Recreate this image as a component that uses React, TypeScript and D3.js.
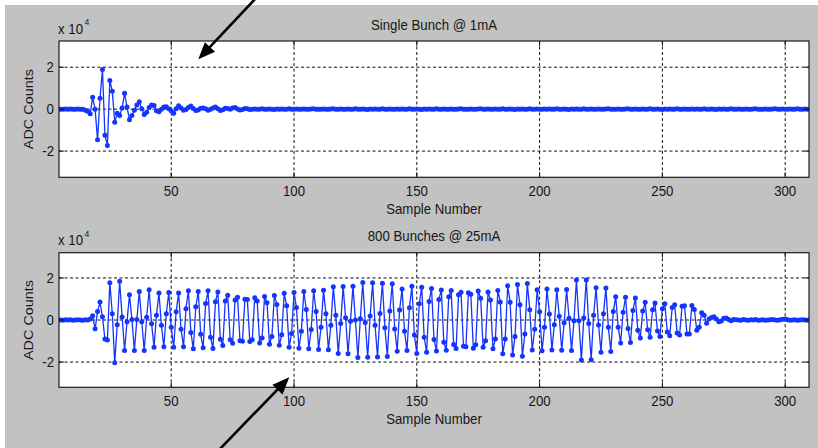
import React from "react";
import * as d3 from "d3";

// ---------- data (ADC counts in units of 1e4, one value per sample, starting at sample 4) ----------
const FIRST_SAMPLE = 4;

const singleBunch: number[] = [
  // 4-13
  0.01, 0, -0.01, 0.01, 0, 0.01, -0.01, 0, 0.01, 0,
  // 14-23
  -0.01, -0.05, -0.1, -0.22, 0.57, 0, -1.46, 0.52, 1.89, -1.25,
  // 24-33
  -1.73, 1.37, 0.85, -0.62, -0.2, -0.3, 0.05, 0.76, 0.1, -0.5,
  // 34-43
  -0.3, -0.05, 0.2, 0.35, 0.02, -0.25, -0.15, 0.08, 0.2, 0.18,
  // 44-53
  -0.08, -0.12, 0, 0.1, 0.12, 0.02, -0.08, -0.2, 0.02, 0.16,
  // 54-63
  0.05, -0.05, -0.02, 0.08, 0.15, 0.03, -0.06, -0.04, 0.04, 0.06,
  // 64-73
  0.02, -0.05, 0, 0.06, 0.1, 0.02, -0.06, -0.03, 0.04, 0.03,
  // 74-83
  0, 0.06, 0.08, 0.01, -0.04, -0.02, 0.03, 0.02, -0.02, 0,
  // 84-93
  0.01, -0.01, 0, 0.02, 0, -0.01, 0.01, 0, -0.02, 0.01,
  // 94-103
  0, 0.01, -0.01, 0, 0.02, -0.01, 0, 0.01, 0, -0.01,
  // 104-113
  0.01, 0, -0.01, 0.01, 0.02, 0, -0.01, 0, 0.01, -0.01,
  // 114-123
  0, 0.01, 0.02, -0.01, 0, 0.01, -0.01, 0, 0.01, 0,
  // 124-133
  -0.01, 0.02, 0, -0.01, 0.01, 0, -0.02, 0.01, 0, 0.01,
  // 134-143
  -0.01, 0, 0.02, -0.01, 0, 0.01, 0, -0.01, 0.01, 0,
  // 144-153
  0.01, -0.01, 0, 0.02, 0, -0.01, 0.01, 0, -0.02, 0.01,
  // 154-163
  0, 0.01, -0.01, 0, 0.02, -0.01, 0, 0.01, 0, -0.01,
  // 164-173
  0.01, 0, -0.01, 0.01, 0.02, 0, -0.01, 0, 0.01, -0.01,
  // 174-183
  0, 0.01, 0.02, -0.01, 0, 0.01, -0.01, 0, 0.01, 0,
  // 184-193
  -0.01, 0.02, 0, -0.01, 0.01, 0, -0.02, 0.01, 0, 0.01,
  // 194-203
  -0.01, 0, 0.02, -0.01, 0, 0.01, 0, -0.01, 0.01, 0,
  // 204-213
  0.01, -0.01, 0, 0.02, 0, -0.01, 0.01, 0, -0.02, 0.01,
  // 214-223
  0, 0.01, -0.01, 0, 0.02, -0.01, 0, 0.01, 0, -0.01,
  // 224-233
  0.01, 0, -0.01, 0.01, 0.02, 0, -0.01, 0, 0.01, -0.01,
  // 234-243
  0, 0.01, 0.02, -0.01, 0, 0.01, -0.01, 0, 0.01, 0,
  // 244-253
  -0.01, 0.02, 0, -0.01, 0.01, 0, -0.02, 0.01, 0, 0.01,
  // 254-263
  -0.01, 0, 0.02, -0.01, 0, 0.01, 0, -0.01, 0.01, 0,
  // 264-273
  0.01, -0.01, 0, 0.02, 0, -0.01, 0.01, 0, -0.02, 0.01,
  // 274-283
  0, 0.01, -0.01, 0, 0.02, -0.01, 0, 0.01, 0, -0.01,
  // 284-293
  0.01, 0, -0.01, 0.01, 0.02, 0, -0.01, 0, 0.01, -0.01,
  // 294-303
  0, 0.01, 0.02, -0.01, 0, 0.01, -0.01, 0, 0.01, 0,
  // 304-310
  -0.01, 0.02, 0, -0.01, 0.01, 0, -0.01,
];

const multiBunch: number[] = [
  // 4-13
  0.01, 0, -0.01, 0.01, 0, 0.01, -0.01, 0, 0.01, 0,
  // 14-24
  -0.01, 0.01, 0, 0.05, 0.2, -0.42, 0.4, 0.85, 0.15, -0.9, -0.95,
  // 25-34
  1.77, 0.3, -2.03, -0.23, 1.84, 0.14, -1.45, -0.08, 1.2, 0.02,
  // 35-44
  -1.45, 0.02, 1.35, -0.08, -1.45, 0.13, 1.44, -0.18, -1.29, 0.23,
  // 45-54
  1.28, -0.25, -1.27, 0.3, 1.31, -0.35, -1.3, 0.39, 1.28, -0.44,
  // 55-64
  -1.27, 0.54, 1.39, -0.59, -1.37, 0.63, 1.35, -0.68, -1.32, 0.78,
  // 65-74
  1.39, -0.82, -1.36, 0.87, 1.33, -0.92, -1.21, 0.9, 1.18, -0.94,
  // 75-84
  -1.11, 0.95, 1.08, -0.99, -1.01, 0.99, 0.97, -1.02, -0.94, 1.06,
  // 85-94
  0.9, -1.09, -0.86, 1.12, 0.82, -1.15, -0.78, 1.17, 0.74, -1.2,
  // 95-104
  -0.7, 1.27, 0.68, -1.29, -0.64, 1.31, 0.59, -1.34, -0.54, 1.35,
  // 105-114
  0.5, -1.37, -0.45, 1.39, 0.4, -1.4, -0.35, 1.41, 0.3, -1.42,
  // 115-124
  -0.25, 1.58, 0.22, -1.59, -0.17, 1.59, 0.11, -1.6, -0.06, 1.6,
  // 125-134
  0, -1.78, 0.06, 1.78, -0.12, -1.77, 0.19, 1.77, -0.25, -1.76,
  // 135-144
  0.31, 1.75, -0.37, -1.73, 0.43, 1.72, -0.43, -1.48, 0.48, 1.47,
  // 145-154
  -0.53, -1.45, 0.58, 1.61, -0.71, -1.59, 0.77, 1.56, -0.82, -1.53,
  // 155-164
  0.88, 1.5, -0.93, -1.47, 0.98, 1.43, -1.06, -1.44, 1.11, 1.4,
  // 165-174
  -1.16, -1.36, 1.2, 1.32, -1.25, -1.27, 1.29, 1.23, -1.34, -1.18,
  // 175-184
  1.38, 1.04, -1.3, -0.99, 1.33, 0.95, -1.37, -0.9, 1.4, 0.85,
  // 185-194
  -1.6, -0.9, 1.63, 0.84, -1.66, -0.78, 1.69, 0.72, -1.72, -0.66,
  // 195-204
  1.74, 0.49, -1.43, -0.44, 1.44, 0.39, -1.46, -0.34, 1.47, 0.29,
  // 205-214
  -1.43, -0.23, 1.44, 0.18, -1.44, -0.13, 1.45, 0.08, -1.45, -0.03,
  // 215-224
  1.9, -0.03, -1.9, 0.1, 1.9, -0.17, -1.89, 0.23, 1.53, -0.24,
  // 225-234
  -1.53, 0.3, 1.52, -0.35, -1.5, 0.4, 1.11, -0.34, -1.09, 0.37,
  // 235-244
  1.08, -0.41, -1.07, 0.45, 1.05, -0.49, -0.85, 0.43, 0.84, -0.46,
  // 245-254
  -0.82, 0.49, 0.81, -0.52, -0.79, 0.54, 0.77, -0.57, -0.75, 0.6,
  // 255-264
  0.73, -0.62, -0.71, 0.65, 0.68, -0.67, -0.66, 0.69, 0.5, -0.49,
  // 265-274
  -0.35, 0.35, 0.22, -0.16, 0.05, 0.12, 0.15, 0.05, -0.08, -0.05,
  // 275-284
  0.08, 0.1, 0.02, -0.03, 0.02, 0.01, 0, -0.01, 0.02, 0,
  // 285-294
  -0.01, 0.01, 0, 0.02, -0.01, 0, 0.01, -0.01, 0, 0.01,
  // 295-304
  0.02, 0, -0.01, 0.01, 0.03, 0.05, 0.01, -0.01, 0, 0.01,
  // 305-310
  -0.01, 0, 0.01, 0, -0.01, 0.01,
];

const xTickValues = [50, 100, 150, 200, 250, 300];
const yTickValues = [-2, 0, 2];
const panelTitles = ["Single Bunch @ 1mA", "800 Bunches @ 25mA"];
const xAxisLabel = "Sample Number";
const yAxisLabel = "ADC Counts";

// ---------- styling / layout ----------
const W = 818;
const H = 448;
const FONT = "'Liberation Sans', Arial, Helvetica, sans-serif";
const FS = 14.4;
const SX = 0.92; // horizontal squeeze of the glyphs as in the reference
const TEXT = "#161616";
const BLUE = "#1434ff";
const X_LEFT = 59;
const X_RIGHT = 809;

type PanelProps = {
  id: string;
  top: number;
  bottom: number;
  yMax: number;
  values: number[];
  title: string;
};

function HText(props: {
  x: number;
  y: number;
  anchor?: "start" | "middle" | "end";
  size?: number;
  children: React.ReactNode;
}) {
  const { x, y, anchor = "middle", size = FS, children } = props;
  return (
    <text
      transform={`translate(${x},${y}) scale(${SX},1)`}
      textAnchor={anchor}
      fontFamily={FONT}
      fontSize={size}
      fill={TEXT}
    >
      {children}
    </text>
  );
}

function Panel({ id, top, bottom, yMax, values, title }: PanelProps) {
  const x = d3.scaleLinear().domain([4.3, 309.7]).range([X_LEFT, X_RIGHT]);
  const y = d3.scaleLinear().domain([-yMax, yMax]).range([bottom, top]);
  const pts: [number, number][] = values.map((v, i) => [FIRST_SAMPLE + i, v]);
  const line = d3
    .line<[number, number]>()
    .x((d) => x(d[0]))
    .y((d) => y(d[1]));
  const tick = 5;
  const cx = (X_LEFT + X_RIGHT) / 2;
  return (
    <g>
      <defs>
        <clipPath id={id}>
          <rect x={X_LEFT} y={top} width={X_RIGHT - X_LEFT} height={bottom - top} />
        </clipPath>
      </defs>
      <rect x={X_LEFT} y={top} width={X_RIGHT - X_LEFT} height={bottom - top} fill="#ffffff" />
      {/* grid */}
      {xTickValues.map((t) => (
        <line
          key={"gx" + t}
          x1={x(t)}
          x2={x(t)}
          y1={top}
          y2={bottom}
          stroke="#111"
          strokeWidth={1}
          strokeDasharray="3,2.5"
        />
      ))}
      {yTickValues.map((t) => (
        <line
          key={"gy" + t}
          x1={X_LEFT}
          x2={X_RIGHT}
          y1={y(t)}
          y2={y(t)}
          stroke="#111"
          strokeWidth={1}
          strokeDasharray="3,2.5"
        />
      ))}
      {/* data */}
      <g clipPath={`url(#${id})`}>
        <path d={line(pts) || ""} fill="none" stroke={BLUE} strokeWidth={1.3} />
        {pts.map((d, i) => (
          <circle key={i} cx={x(d[0])} cy={y(d[1])} r={2.5} fill={BLUE} />
        ))}
      </g>
      {/* ticks */}
      {xTickValues.map((t) => (
        <g key={"tx" + t}>
          <line x1={x(t)} x2={x(t)} y1={bottom} y2={bottom - tick} stroke="#111" />
          <line x1={x(t)} x2={x(t)} y1={top} y2={top + tick} stroke="#111" />
        </g>
      ))}
      {yTickValues.map((t) => (
        <g key={"ty" + t}>
          <line x1={X_LEFT} x2={X_LEFT + tick} y1={y(t)} y2={y(t)} stroke="#111" />
          <line x1={X_RIGHT} x2={X_RIGHT - tick} y1={y(t)} y2={y(t)} stroke="#111" />
        </g>
      ))}
      {/* frame */}
      <rect
        x={X_LEFT}
        y={top}
        width={X_RIGHT - X_LEFT}
        height={bottom - top}
        fill="none"
        stroke="#1a1a1a"
        strokeWidth={1.2}
      />
      {/* tick labels */}
      {xTickValues.map((t) => (
        <HText key={"lx" + t} x={x(t)} y={bottom + 18.5}>
          {t}
        </HText>
      ))}
      {yTickValues.map((t) => (
        <HText key={"ly" + t} x={54} y={y(t) + 5.2} anchor="end">
          {t}
        </HText>
      ))}
      {/* exponent */}
      <HText x={58} y={top - 7.5} anchor="start">
        x 10
      </HText>
      <HText x={84.5} y={top - 16} anchor="start" size={9.5}>
        4
      </HText>
      {/* title + labels */}
      <HText x={cx} y={top - 11.5}>
        {title}
      </HText>
      <HText x={cx} y={bottom + 37}>
        {xAxisLabel}
      </HText>
      <text
        transform={`translate(32.8,${(top + bottom) / 2}) scale(${SX},1) rotate(-90)`}
        textAnchor="middle"
        fontFamily={FONT}
        fontSize={FS}
        fill={TEXT}
      >
        {yAxisLabel}
      </text>
    </g>
  );
}

function Arrow({ x1, y1, x2, y2 }: { x1: number; y1: number; x2: number; y2: number }) {
  const dx = x2 - x1;
  const dy = y2 - y1;
  const len = Math.hypot(dx, dy);
  const ux = dx / len;
  const uy = dy / len;
  const L = 17;
  const w = 7;
  const bx = x2 - ux * L;
  const by = y2 - uy * L;
  const px = -uy;
  const py = ux;
  const head = `M${x2},${y2}L${bx + px * w},${by + py * w}L${bx - px * w},${by - py * w}Z`;
  return (
    <g>
      <line x1={x1} y1={y1} x2={bx + ux * 2} y2={by + uy * 2} stroke="#000" strokeWidth={2.6} />
      <path d={head} fill="#000" />
    </g>
  );
}

export default function App() {
  return (
    <svg
      width={W}
      height={H}
      viewBox={`0 0 ${W} ${H}`}
      style={{ position: "fixed", left: 0, top: 0, display: "block" }}
    >
      <rect x={0} y={0} width={W} height={H} fill="#ffffff" />
      <rect x={5} y={5} width={W - 5} height={H - 5} fill="#c2c2c2" />
      <Panel
        id="clip-top"
        top={41}
        bottom={177.3}
        yMax={3.25}
        values={singleBunch}
        title={panelTitles[0]}
      />
      <Panel
        id="clip-bottom"
        top={252.7}
        bottom={387.3}
        yMax={3.2}
        values={multiBunch}
        title={panelTitles[1]}
      />
      <Arrow x1={257} y1={-3} x2={198.3} y2={59.3} />
      <Arrow x1={218} y1={451} x2={289.3} y2={377.3} />
    </svg>
  );
}
